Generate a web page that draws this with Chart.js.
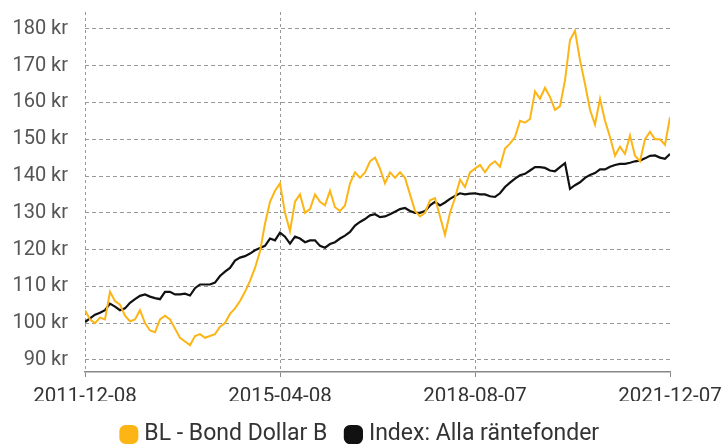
<!DOCTYPE html>
<html>
<head>
<meta charset="utf-8">
<script src="https://cdn.jsdelivr.net/npm/chart.js@4.4.1/dist/chart.umd.min.js"></script>
<style>
  html, body { margin: 0; padding: 0; background: #fff; }
  #wrap { width: 724px; height: 444px; }
</style>
</head>
<body>
<div id="wrap"><canvas id="myChart" width="724" height="444"></canvas></div>
<script>
// x tick labels (dates at 0, 1/3, 2/3 and end of the period)
const dateLabels = ['2011-12-08', '2015-04-08', '2018-08-07', '2021-12-07']
const datePositions = [0, 39, 78, 117]

// y ticks, kr
const yTicks = [90, 100, 110, 120, 130, 140, 150, 160, 170, 180]

const bondDollar = [
  103.5, 101, 100, 101.5, 101, 108.5, 106, 105, 102, 100.5,
  101, 103.5, 100, 98, 97.5, 101, 102, 101, 98.5, 96,
  95, 94, 96.5, 97, 96, 96.5, 97, 99, 100, 102.5,
  104, 106, 108.5, 111.5, 115, 119.5, 127, 133, 136, 138,
  130, 125, 133, 135, 130, 131, 135, 133, 132, 136,
  131.5, 130.5, 132, 138, 141, 139.5, 141, 144, 145, 142,
  138, 141, 139.5, 141, 139.5, 135, 130.5, 129, 130, 133.4,
  134, 129, 124, 130, 134, 139, 137, 141, 142, 143,
  141, 143, 144, 142.5, 147.5, 148.8, 150.6, 155, 154.5, 155.5,
  163, 161, 164, 161.5, 158, 159, 166, 177, 179.5, 171.5,
  165, 158, 154, 161, 155, 150.6, 145.5, 148, 146, 151,
  145.5, 144, 150, 152, 150, 150, 148.5, 156
]

const allaRantefonder = [
  100.3, 101.3, 102.3, 102.8, 103.5, 105.3, 104.5, 103.5, 104, 105.5,
  106.5, 107.4, 107.8, 107.2, 106.8, 106.5, 108.5, 108.5, 107.8, 107.8,
  108, 107.5, 109.5, 110.5, 110.5, 110.5, 111, 112.8, 114, 115,
  117, 117.8, 118.2, 118.9, 119.8, 120.4, 121, 123, 122.5, 124.6,
  123.5, 121.6, 123.5, 123, 122, 122.5, 122.5, 121, 120.5, 121.5,
  122, 123, 123.8, 124.8, 126.5, 127.5, 128.3, 129.3, 129.6, 128.8,
  129, 129.6, 130.3, 131, 131.3, 130.5, 130, 130, 130.5, 132,
  133, 132, 132.8, 133.8, 134.6, 135.3, 135, 135.2, 135.3, 135,
  135, 134.5, 134.3, 135.3, 137, 138.2, 139.3, 140.2, 140.6, 141.5,
  142.4, 142.4, 142.2, 141.5, 141.3, 142.4, 143.5, 136.5, 137.5, 138.3,
  139.5, 140.3, 140.8, 141.8, 141.8, 142.5, 143, 143.3, 143.3, 143.6,
  144, 144.2, 144.8, 145.5, 145.6, 145, 144.7, 146
]

const toPoints = arr => arr.map((v, i) => ({ x: i, y: v }))

const ctx = document.getElementById('myChart').getContext('2d')
const chart = new Chart(ctx, {
  type: 'line',
  data: {
    datasets: [{
      label: 'BL - Bond Dollar B',
      data: toPoints(bondDollar),
      borderColor: '#FDB515',
      backgroundColor: '#FDB515',
      borderWidth: 2,
      pointRadius: 0,
      tension: 0
    }, {
      label: 'Index: Alla räntefonder',
      data: toPoints(allaRantefonder),
      borderColor: '#111111',
      backgroundColor: '#111111',
      borderWidth: 2.2,
      pointRadius: 0,
      tension: 0
    }]
  },
  options: {
    responsive: false,
    animation: false,
    // negative bottom padding pushes the legend row down to the edge
    layout: { padding: { top: 12, right: 0, left: 0, bottom: -12 } },
    plugins: {
      tooltip: { enabled: false },
      legend: {
        position: 'bottom',
        labels: {
          usePointStyle: true,
          pointStyle: 'rectRounded',
          boxWidth: 8,
          boxHeight: 14,
          padding: 22,
          color: '#333',
          font: { family: 'Roboto', size: 23 }
        }
      }
    },
    scales: {
      x: {
        type: 'linear',
        min: 0,
        max: 117,
        afterBuildTicks: axis => {
          axis.ticks = datePositions.map(v => ({ value: v }))
        },
        afterFit: axis => {
          axis.height = 29
          axis.paddingLeft = 0
          axis.paddingRight = 54
        },
        ticks: {
          autoSkip: false,
          maxRotation: 0,
          color: '#333',
          font: { family: 'Roboto', size: 20.5 },
          padding: 8,
          callback: (value) => dateLabels[datePositions.indexOf(value)]
        },
        grid: {
          color: c => c.index === 3 ? 'rgba(0,0,0,0)' : '#999',
          tickColor: '#888',
          tickLength: 5,
          lineWidth: 1
        },
        // border.dash is what dashes the grid lines in v4
        border: { display: true, color: '#888', width: 1.5, dash: [3, 3] }
      },
      y: {
        min: 86.7,
        max: 184.6,
        afterBuildTicks: axis => {
          axis.ticks = yTicks.map(v => ({ value: v }))
        },
        afterFit: axis => {
          axis.width = 85
          axis.paddingTop = 0
          axis.paddingBottom = 0
        },
        ticks: {
          color: '#555',
          font: { family: 'Roboto', size: 20 },
          padding: 17,
          callback: v => v + ' kr'
        },
        grid: {
          color: '#999',
          drawTicks: false,
          lineWidth: 1
        },
        border: { display: false, dash: [4, 3] }
      }
    }
  }
})
</script>
</body>
</html>
